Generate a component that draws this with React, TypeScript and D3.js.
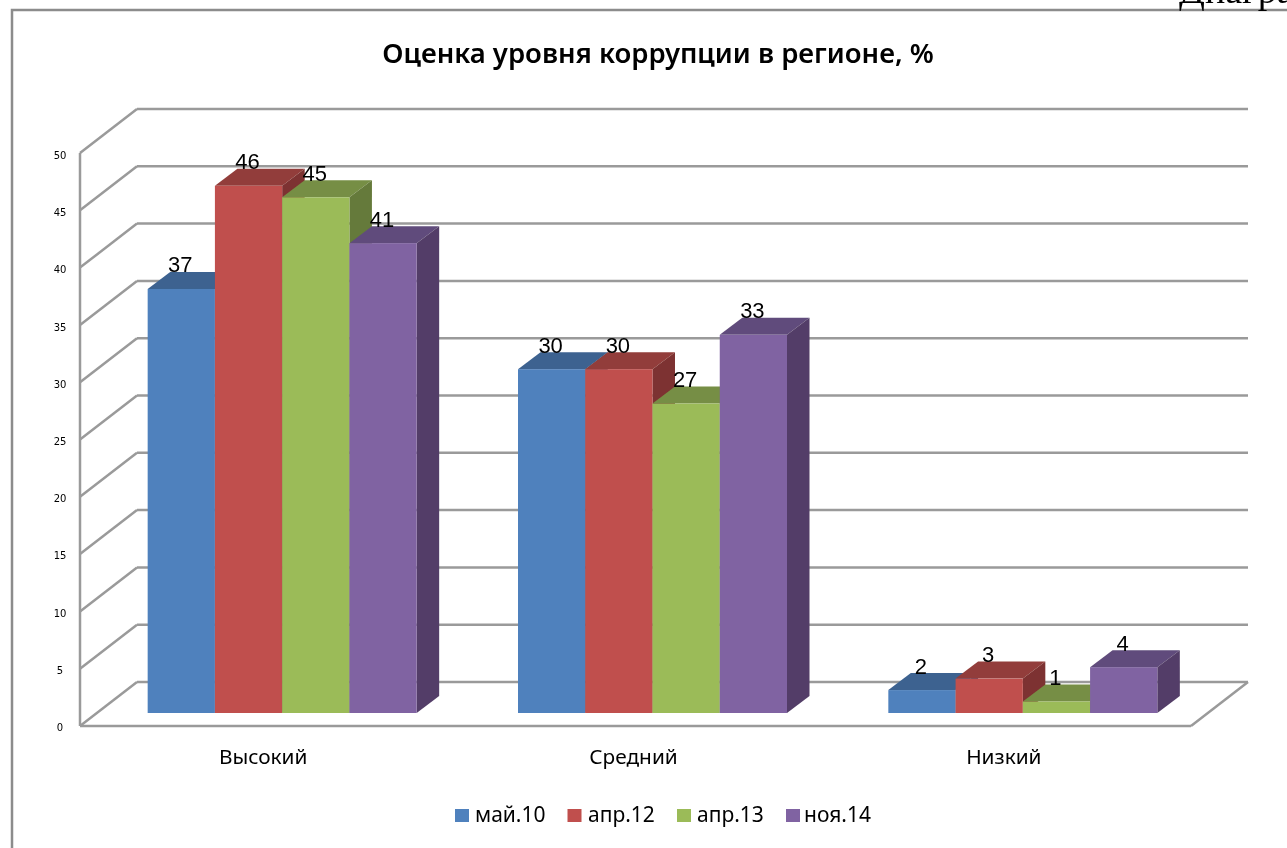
import React from 'react';
import * as d3 from 'd3';

const categories = ['Высокий', 'Средний', 'Низкий'];
const seriesNames = ['май.10', 'апр.12', 'апр.13', 'ноя.14'];
const vysokiy = [37, 46, 45, 41];
const sredniy = [30, 30, 27, 33];
const nizkiy = [2, 3, 1, 4];
const tickValues = [0, 5, 10, 15, 20, 25, 30, 35, 40, 45, 50];

const rows = [vysokiy, sredniy, nizkiy];
const frontColors = ['#4f81bd', '#c0504d', '#9bbb59', '#8064a2'];
const topColors = ['#3c6290', '#923d3a', '#768e44', '#614c7b'];
const sideColors = ['#345579', '#7d3230', '#657a3a', '#533e67'];

const gridColor = '#9a9a9a';
const axisFont = '"DejaVu Sans", sans-serif';
const labelFont = '"Noto Sans", sans-serif';

// front plane of the 3D box and how far the back wall sits behind it
const y = d3.scaleLinear().domain([0, 50]).range([726, 153]);
// tick labels drift slightly from the front edge in the original
const yLabel = d3.scaleLinear().domain([0, 50]).range([727, 155]);
const x0 = d3.scaleBand().domain(categories).range([80, 1191]);
const x1 = d3.scaleBand().domain(seriesNames).range([0, 269]);
const wallDx = 57;
const wallDy = -44;
// bars stand a little behind the front edge of the floor
const barDx = 17;
const barDy = -13;
const depthDx = 22.5;
const depthDy = -17;

const poly = (pts: number[][]) => pts.map(p => p.join(',')).join(' ');

const legendX = [455, 567.5, 677, 786];
const legendTextX = [475, 588, 697, 804];

export default function App() {
  const bandPad = (x0.bandwidth() - 269) / 2;
  const right = x0.range()[1];
  const left = x0.range()[0];

  return (
    <svg
      width={1287}
      height={848}
      style={{ position: 'absolute', left: 0, top: 0, background: '#fff' }}
    >
      <defs>
        <filter id="soft" x="-5%" y="-5%" width="110%" height="110%">
          <feGaussianBlur stdDeviation="0.55" />
        </filter>
      </defs>
      <g filter="url(#soft)">
        {/* outer frame, runs off the page */}
        <path d="M12,848V10H1287" fill="none" stroke="#8c8c8c" strokeWidth={2.5} />
        <text x={1179} y={2.5} fontFamily='"Liberation Serif", serif' fontSize={38} fill="#000">
          Диаграмма
        </text>

        <text x={658} y={63} textAnchor="middle" fontFamily={labelFont} fontSize={27.5} fontWeight={600} fill="#000">
          Оценка уровня коррупции в регионе, %
        </text>

        {/* walls */}
        {tickValues.map(t => (
          <g key={t} fill="none" stroke={gridColor} strokeWidth={2.5}>
            <line x1={left} y1={y(t)} x2={left + wallDx} y2={y(t) + wallDy} />
            <line x1={left + wallDx} y1={y(t) + wallDy} x2={right + wallDx} y2={y(t) + wallDy} />
          </g>
        ))}
        <line x1={left} y1={y(0)} x2={left} y2={y(50)} stroke={gridColor} strokeWidth={2.5} />
        <line x1={left} y1={y(0)} x2={right} y2={y(0)} stroke={gridColor} strokeWidth={2.5} />
        <line x1={right} y1={y(0)} x2={right + wallDx} y2={y(0) + wallDy} stroke={gridColor} strokeWidth={2.5} />

        {tickValues.map(t => (
          <text key={t} x={60} y={yLabel(t) + 4} textAnchor="middle" fontFamily={axisFont} fontSize={10} fill="#000">
            {t}
          </text>
        ))}

        {/* bars, left to right so each one covers the side of the previous */}
        {categories.map((c, ci) =>
          seriesNames.map((s, si) => {
            const xa = x0(c)! + bandPad + x1(s)! + barDx;
            const xb = xa + x1.bandwidth();
            const base = y(0) + barDy;
            const top = y(rows[ci][si]) + barDy;
            return (
              <g key={c + s}>
                <polygon
                  points={poly([[xa, top], [xa + depthDx, top + depthDy], [xb + depthDx, top + depthDy], [xb, top]])}
                  fill={topColors[si]}
                />
                <polygon
                  points={poly([[xb, top], [xb + depthDx, top + depthDy], [xb + depthDx, base + depthDy], [xb, base]])}
                  fill={sideColors[si]}
                />
                <rect x={xa} y={top} width={xb - xa} height={base - top} fill={frontColors[si]} />
              </g>
            );
          })
        )}

        {categories.map((c, ci) =>
          seriesNames.map((s, si) => {
            const xa = x0(c)! + bandPad + x1(s)! + barDx;
            return (
              <text
                key={c + s}
                x={xa + x1.bandwidth() / 2 - 1}
                y={y(rows[ci][si]) + barDy + depthDy + 0.5}
                textAnchor="middle"
                fontFamily='"Liberation Sans", sans-serif'
                fontSize={22}
                fill="#000"
              >
                {rows[ci][si]}
              </text>
            );
          })
        )}

        {categories.map(c => (
          <text
            key={c}
            x={x0(c)! + x0.bandwidth() / 2 - 2}
            y={764}
            textAnchor="middle"
            fontFamily={labelFont}
            fontSize={20.8}
            fill="#000"
          >
            {c}
          </text>
        ))}

        {seriesNames.map((s, i) => (
          <g key={s}>
            <rect x={legendX[i]} y={809} width={14} height={13} fill={frontColors[i]} />
            <text x={legendTextX[i]} y={822} fontFamily={labelFont} fontSize={21} fill="#000">
              {s}
            </text>
          </g>
        ))}
      </g>
    </svg>
  );
}
